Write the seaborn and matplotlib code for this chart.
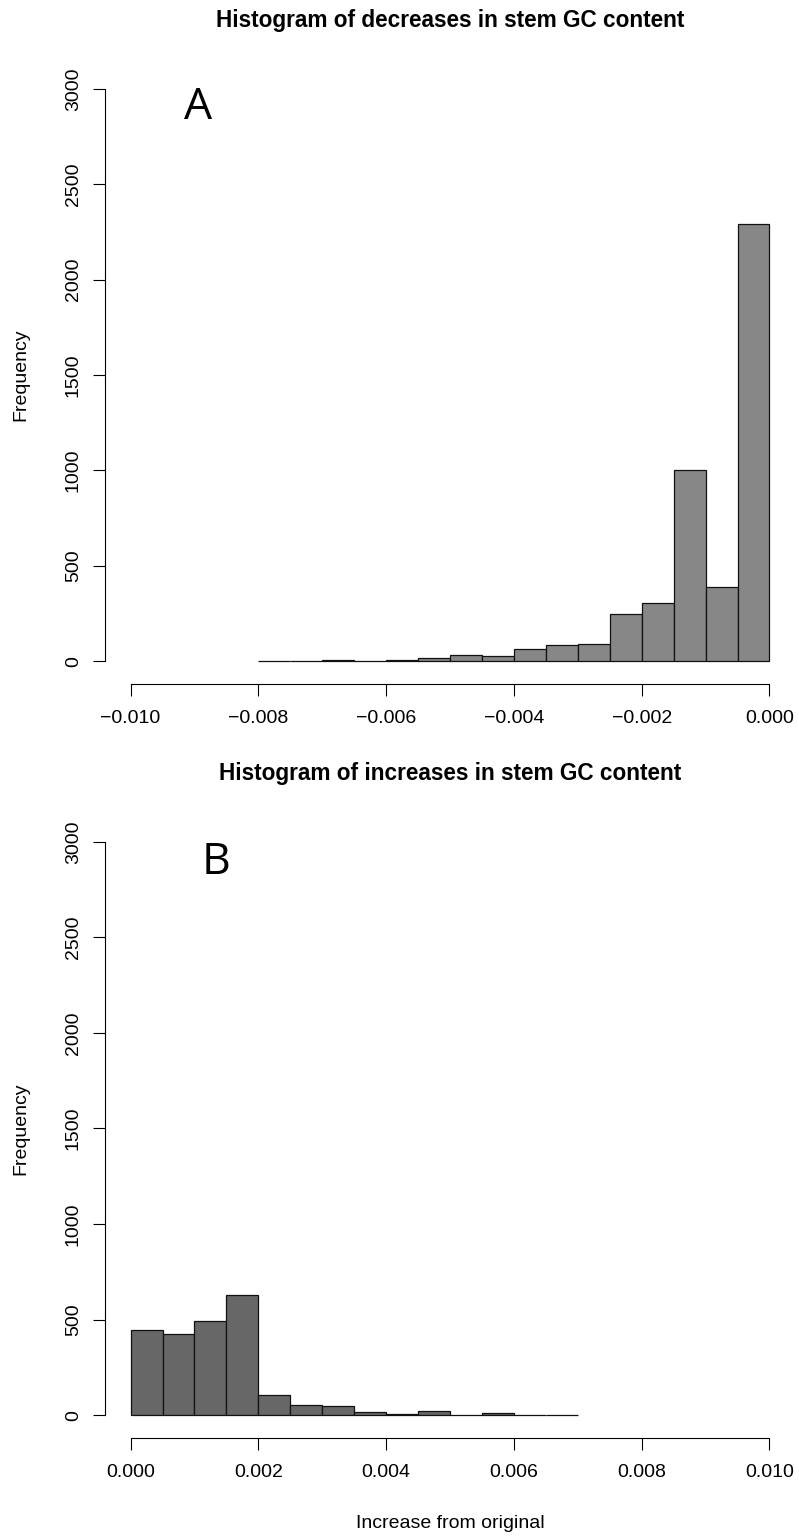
import numpy as np
import pandas as pd
import matplotlib
matplotlib.use("Agg")
import matplotlib.pyplot as plt
import seaborn as sns

# bin counts (bin width 0.0005)
dec_bin_left = [-0.0080, -0.0075, -0.0070, -0.0065, -0.0060, -0.0055, -0.0050, -0.0045,
                -0.0040, -0.0035, -0.0030, -0.0025, -0.0020, -0.0015, -0.0010, -0.0005]
dec_counts = [3, 1, 5, 2, 4, 14, 31, 28, 66, 86, 91, 245, 304, 1000, 390, 2290]

inc_bin_left = [0.0000, 0.0005, 0.0010, 0.0015, 0.0020, 0.0025, 0.0030,
                0.0035, 0.0040, 0.0045, 0.0050, 0.0055, 0.0060, 0.0065]
inc_counts = [447, 422, 494, 629, 106, 52, 47, 16, 5, 21, 3, 12, 2, 2]

BIN_WIDTH = 0.0005

dec_xticks = [-0.010, -0.008, -0.006, -0.004, -0.002, 0.000]
dec_xlabels = ["\u22120.010", "\u22120.008", "\u22120.006", "\u22120.004", "\u22120.002", "0.000"]
inc_xticks = [0.000, 0.002, 0.004, 0.006, 0.008, 0.010]
inc_xlabels = ["0.000", "0.002", "0.004", "0.006", "0.008", "0.010"]
yticks = [0, 500, 1000, 1500, 2000, 2500, 3000]

sns.set_style("ticks")
plt.rcParams["font.family"] = ["Liberation Sans", "DejaVu Sans"]
plt.rcParams.update({
    "axes.linewidth": 0.8,
    "axes.edgecolor": "black",
    "axes.labelcolor": "black",
    "text.color": "black",
    "xtick.color": "black",
    "ytick.color": "black",
})

W, H = 799, 1536


def draw_hist(ax, bin_left, counts, color, xticks, xlabels, title, letter, letter_xy, xlabel=None):
    edges = list(bin_left) + [bin_left[-1] + BIN_WIDTH]
    centers = [b + BIN_WIDTH / 2 for b in bin_left]
    df = pd.DataFrame({"value": centers, "n": counts})
    sns.histplot(data=df, x="value", weights="n", bins=edges, color=color, alpha=1,
                 edgecolor="#111111", linewidth=0.9, ax=ax)

    lo, hi = min(xticks), max(xticks)
    pad = 0.04 * (hi - lo)
    ax.set_xlim(lo - pad, hi + pad)
    ax.set_ylim(-120, 3120)

    for side in ["top", "right"]:
        ax.spines[side].set_visible(False)
    ax.spines["bottom"].set_bounds(lo, hi)
    ax.spines["left"].set_bounds(0, 3000)

    ax.set_xticks(xticks)
    ax.set_xticklabels(xlabels)
    ax.set_yticks(yticks)
    ax.set_yticklabels([str(v) for v in yticks], rotation=90, va="center")
    ax.tick_params(axis="both", direction="out", length=8.6, width=0.8, labelsize=14)
    ax.tick_params(axis="x", pad=10)
    ax.tick_params(axis="y", pad=8)

    ax.set_ylabel("Frequency", fontsize=14, va="center")
    ax.yaxis.set_label_coords((21 - 105) / 690, 0.5)
    if xlabel:
        ax.set_xlabel(xlabel, fontsize=14, va="center")
        ax.xaxis.set_label_coords(0.5, -0.1375)
    else:
        ax.set_xlabel("")

    ax.text(0.5, 1.073, title, transform=ax.transAxes, ha="center", va="center",
            fontsize=16.3, fontweight="bold")
    ax.text(letter_xy[0], letter_xy[1], letter, ha="center", va="center",
            fontsize=32, family=["Open Sans", "DejaVu Sans"])


fig = plt.figure(figsize=(W / 100, H / 100), dpi=100)
ax1 = fig.add_axes([105 / W, 1 - 684 / H, 690 / W, 618 / H])
ax2 = fig.add_axes([105 / W, 1 - 1438 / H, 690 / W, 619 / H])

draw_hist(ax1, dec_bin_left, dec_counts, "#878787", dec_xticks, dec_xlabels,
          "Histogram of decreases in stem GC content", "A", (-0.00894, 2900))
draw_hist(ax2, inc_bin_left, inc_counts, "#676767", inc_xticks, inc_xlabels,
          "Histogram of increases in stem GC content", "B", (0.00134, 2890),
          xlabel="Increase from original")

fig.savefig("out.png", dpi=100, facecolor="white")
